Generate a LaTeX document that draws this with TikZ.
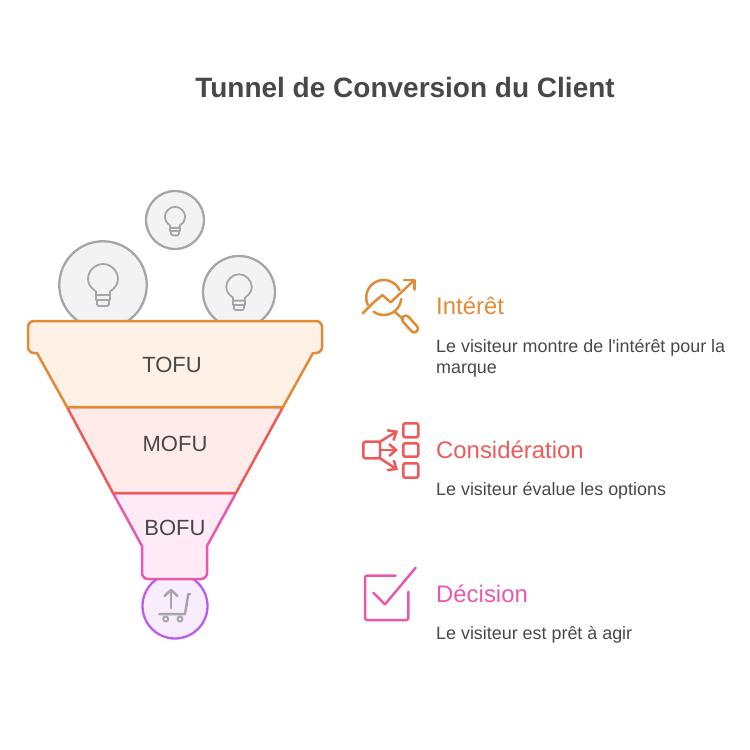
\documentclass[tikz,border=0pt]{standalone}
\usepackage{fontspec}
\setmainfont{Liberation Sans}
\usetikzlibrary{arrows.meta}
\definecolor{inkgray}{HTML}{484848}
\definecolor{bulbgray}{HTML}{A6A6A6}
\definecolor{bulbfill}{HTML}{F3F3F3}
\definecolor{tofuline}{HTML}{E28B37}
\definecolor{tofufill}{HTML}{FFF1E5}
\definecolor{mofuline}{HTML}{EE5A5A}
\definecolor{mofufill}{HTML}{FFEBEA}
\definecolor{bofuline}{HTML}{E759AF}
\definecolor{bofufill}{HTML}{FFEAF6}
\definecolor{cartline}{HTML}{BC5CE8}
\definecolor{cartfill}{HTML}{F7EDFF}
\tikzset{
	titletext/.style={font=\fontsize{28}{32}\selectfont\bfseries, text=inkgray},
	stagetext/.style={font=\fontsize{22}{26}\selectfont, text=inkgray},
	headtext/.style={font=\fontsize{23.9}{28}\selectfont, anchor=west, inner sep=0pt},
	bodytext/.style={font=\fontsize{17.9}{21}\selectfont, text=inkgray, anchor=north west, align=left, inner sep=0pt},
	idea/.style={circle, draw=bulbgray, fill=bulbfill, line width=2.3pt, inner sep=0pt, minimum size=#1},
	glyph/.style={line width=2.5pt, line cap=round, line join=round},
	funnelpart/.style={line width=2.5pt, line join=round}
}
\begin{document}
\begin{tikzpicture}[x=1pt, y=-1pt, line cap=round, line join=round]
	\useasboundingbox (0,0) rectangle (750,750);
	
	% Ideas falling in
	\node[idea=87.5pt] (bigidea) at (103,285) {};
	\node[idea=58pt] (topidea) at (175,220) {};
	\node[idea=72pt] (sideidea) at (239,292) {};
	\node[idea=65pt, draw=cartline, fill=cartfill] (cartcircle) at (175,606) {};
	
	% Bulbs, head centre given, scaled by the circle
	\foreach \bx/\by/\bs in {103/279/1, 175/217/0.68, 239/287/0.85}{
		\begin{scope}[shift={(\bx,\by)}, x=\bs pt, y=-\bs pt]
			\draw[bulbgray, line width=1.8pt] (-7,16) -- (-7,12.5)
			.. controls (-12,9) and (-15,5) .. (-15,0)
			.. controls (-15,-8) and (-8,-15) .. (0,-15)
			.. controls (8,-15) and (15,-8) .. (15,0)
			.. controls (15,5) and (12,9) .. (7,12.5) -- (7,16) -- cycle;
			\draw[bulbgray, line width=1.8pt] (-7,16) -- (-7,21) -- (7,21) -- (7,16);
			\draw[bulbgray, line width=1.8pt, rounded corners=1.5pt] (-6,21) -- (-6,27) -- (6,27) -- (6,21);
		\end{scope}
	}
	
	% Funnel, drawn from the bottom up
	\draw[funnelpart, bofuline, fill=bofufill]
	(113,493) -- (236,493) -- (207,546) -- (207,573)
	arc (0:90:6) -- (148,579) arc (90:180:6) -- (142,546) -- cycle;
	\draw[funnelpart, mofuline, fill=mofufill]
	(67,407) -- (283,407) -- (236,493) -- (113,493) -- cycle;
	\draw[funnelpart, tofuline, fill=tofufill]
	(34,321) -- (316,321) arc (-90:0:6) -- (322,347) arc (0:90:6)
	-- (313,353) -- (283,407) -- (67,407) -- (37,353) -- (34,353)
	arc (90:180:6) -- (28,327) arc (180:270:6) -- cycle;
	
	\node[stagetext] (tofu) at (172,365) {TOFU};
	\node[stagetext] (mofu) at (175,444) {MOFU};
	\node[stagetext] (bofu) at (175,528) {BOFU};
	
	% Cart below the funnel
	\draw[glyph, bulbgray] (171,608) -- (171,590);
	\draw[glyph, bulbgray] (164.5,596) -- (171,590) -- (177.5,596);
	\draw[glyph, bulbgray] (159.5,614) -- (185,614) -- (188.3,594) -- (190,594);
	\draw[bulbgray, line width=2pt] (165.7,619) circle (2.5);
	\draw[bulbgray, line width=2pt] (180,619) circle (2.5);
	
	% Title
	\node[titletext] (title) at (405,87) {Tunnel de Conversion du Client};
	
	% Interet
	\node[headtext, text=tofuline] (interet) at (436,306) {Intérêt};
	\node[bodytext] (interetbody) at (436,339.5) {Le visiteur montre de l\textquotesingle intérêt pour la\\marque};
	\draw[glyph, tofuline] (362.7,313.3) -- (373.3,302.7) -- (382.3,295) -- (390.7,302.3) -- (413.3,281);
	\draw[glyph, tofuline] (404,280) -- (414.3,280) -- (414.3,289.5);
	\draw[glyph, tofuline] (383.7,297.5) ++(-205:17.5) arc (-205:-25:17.5);
	\draw[glyph, tofuline] (383.7,297.5) ++(-355:17.5) arc (-355:-235:17.5);
	\draw[glyph, tofuline] (395,312) -- (403,319);
	\draw[funnelpart, tofuline, rotate around={-48:(410,324)}, rounded corners=3.5pt]
	(400,320.3) rectangle (420,327.7);
	
	% Consideration
	\node[headtext, text=mofuline] (consideration) at (436,450) {Considération};
	\node[bodytext] (considerationbody) at (436,482.5) {Le visiteur évalue les options};
	\draw[glyph, mofuline, rounded corners=2pt] (363.3,441.7) rectangle (380,458.3);
	\draw[glyph, mofuline, rounded corners=2pt] (403.3,423.3) rectangle (418.3,437.3);
	\draw[glyph, mofuline, rounded corners=2pt] (403.3,443.3) rectangle (418.3,456.7);
	\draw[glyph, mofuline, rounded corners=2pt] (403.3,463.3) rectangle (418.3,477.7);
	\foreach \sy/\ay in {441.7/430.7, 450/450, 458.3/470}{
		\draw[glyph, mofuline, -{Straight Barb[length=7pt, width=12pt]}] (380,\sy) -- (398,\ay);
	}
	
	% Decision
	\node[headtext, text=bofuline] (decision) at (436,594) {Décision};
	\node[bodytext] (decisionbody) at (436,626.5) {Le visiteur est prêt à agir};
	\draw[glyph, bofuline, rounded corners=2pt] (395.7,575.7) -- (365,575.7) -- (365,620) -- (408.3,620) -- (408.3,591.7);
	\draw[glyph, bofuline] (373.3,592.7) -- (385,604.3) -- (415.7,567.7);
\end{tikzpicture}
\end{document}
